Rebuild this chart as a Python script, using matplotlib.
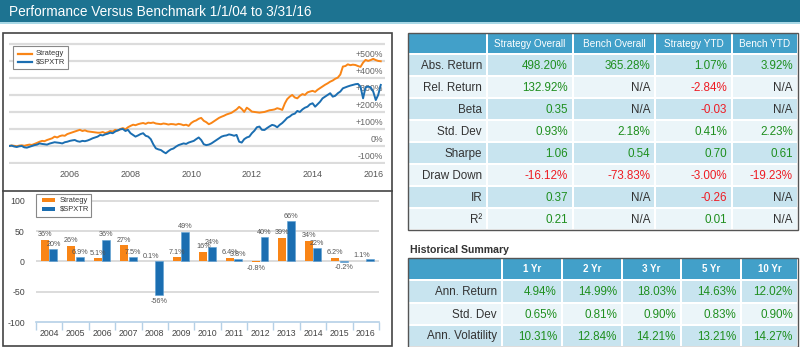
import numpy as np
import pandas as pd
import matplotlib
matplotlib.use('Agg')
import matplotlib.pyplot as plt
from matplotlib.patches import Rectangle

plt.rcParams['font.family'] = ['Liberation Sans', 'DejaVu Sans']

W, H = 800, 347

# ---------------- data ----------------
title = "Performance Versus Benchmark 1/1/04 to 3/31/16"

months = pd.date_range('2004-01-01', periods=148, freq='MS')
strategy_cum = [
    0, 3, 1, -2, 2, 4, 1, 5, 8, 6, 12, 18,
    25, 30, 28, 35, 40, 45, 55, 50, 58, 62, 60, 70,
    75, 80, 85, 90, 95, 88, 92, 86, 84, 82, 80, 78,
    78, 82, 76, 80, 88, 85, 95, 90, 100, 105, 98, 110,
    118, 125, 122, 128, 132, 135, 130, 137, 135, 138, 132, 130,
    128, 132, 130, 126, 129, 128, 125, 130, 127, 122, 125, 118,
    135, 145, 150, 160, 165, 148, 140, 128, 135, 145, 155, 165,
    172, 178, 185, 190, 195, 205, 215, 230, 218, 200, 225, 215,
    202, 200, 198, 196, 198, 200, 205, 210, 212, 215, 222, 218,
    212, 250, 275, 290, 300, 285, 280, 295, 305, 300, 315, 320,
    324, 318, 330, 340, 350, 360, 368, 378, 385, 395, 402, 420,
    467, 470, 480, 475, 478, 476, 470, 465, 490, 506, 500, 505,
    512, 505, 500, 498,
]
spx_cum = [
    0, 2, -3, -6, -2, 0, -8, -10, -5, 0, 5, 8,
    15, 12, 10, 8, 14, 18, 22, 20, 18, 15, 22, 25,
    30, 33, 35, 28, 25, 30, 28, 32, 38, 45, 50, 55,
    65, 62, 68, 72, 78, 75, 85, 92, 98, 100, 88, 95,
    75, 65, 55, 62, 70, 75, 60, 55, 40, 10, -14, -20,
    -24, -35, -43, -30, -20, -15, -4, 5, 10, 15, 12, 20,
    25, 30, 40, 50, 35, 10, 5, 8, 15, 25, 35, 45,
    55, 60, 62, 68, 65, 60, 65, 25, 20, 40, 50, 55,
    75, 90, 110, 114, 95, 94, 105, 115, 124, 120, 110, 124,
    135, 150, 165, 173, 185, 190, 206, 200, 215, 225, 231, 245,
    251, 231, 245, 260, 280, 290, 300, 310, 290, 295, 310, 320,
    339, 345, 350, 355, 359, 363, 365, 349, 280, 345, 349, 345,
    320, 270, 300, 359,
]
line_grid = [-100, 0, 100, 200, 300, 400, 500, 600]
line_ytick_vals = [-100, 0, 100, 200, 300, 400, 500]
line_ytick_labels = ["-100%", "0%", "+100%", "+200%", "+300%", "+400%", "+500%"]
line_xtick_years = [2006, 2008, 2010, 2012, 2014, 2016]

years = [2004, 2005, 2006, 2007, 2008, 2009, 2010, 2011, 2012, 2013, 2014, 2015, 2016]
strategy_annual = [36, 26, 5.1, 27, 0.1, 7.1, 16, 6.4, -0.8, 39, 34, 6.2, 1.1]
spx_annual = [20, 6.9, 36, 7.5, -56, 49, 24, 3.8, 40, 66, 22, -0.2, 3.9]
strategy_annual_labels = ["36%", "26%", "5.1%", "27%", "0.1%", "7.1%", "16%",
                          "6.4%", "-0.8%", "39%", "34%", "6.2%", "1.1%"]
spx_annual_labels = ["20%", "6.9%", "36%", "7.5%", "-56%", "49%", "24%",
                     "3.8%", "40%", "66%", "22%", "-0.2%", ""]
bar_yticks = [-100, -50, 0, 50, 100]

series_names = ["Strategy", "$SPXTR"]

metrics = ["Abs. Return", "Rel. Return", "Beta", "Std. Dev", "Sharpe",
           "Draw Down", "IR", "R²"]
metric_headers = ["Strategy Overall", "Bench Overall", "Strategy YTD", "Bench YTD"]
strategy_overall = ["498.20%", "132.92%", "0.35", "0.93%", "1.06", "-16.12%", "0.37", "0.21"]
bench_overall = ["365.28%", "N/A", "N/A", "2.18%", "0.54", "-73.83%", "N/A", "N/A"]
strategy_ytd = ["1.07%", "-2.84%", "-0.03", "0.41%", "0.70", "-3.00%", "-0.26", "0.01"]
bench_ytd = ["3.92%", "N/A", "N/A", "2.23%", "0.61", "-19.23%", "N/A", "N/A"]

hist_title = "Historical Summary"
hist_metrics = ["Ann. Return", "Std. Dev", "Ann. Volatility"]
hist_headers = ["1 Yr", "2 Yr", "3 Yr", "5 Yr", "10 Yr"]
hist_1yr = ["4.94%", "0.65%", "10.31%"]
hist_2yr = ["14.99%", "0.81%", "12.84%"]
hist_3yr = ["18.03%", "0.90%", "14.21%"]
hist_5yr = ["14.63%", "0.83%", "13.21%"]
hist_10yr = ["12.02%", "0.90%", "14.27%"]

# ---------------- style ----------------
ORANGE = '#f98516'
BLUE = '#1b6eb1'
GRID = '#dcdcdc'
HEAD = '#42a0c9'
ROW_A = '#c8e4ef'
ROW_B = '#ebf5f9'
GREEN = '#1f8f1f'
RED = '#ee1c24'
DARK = '#333333'

fig = plt.figure(figsize=(W / 100, H / 100), dpi=100)


def rect(x0, y0, x1, y1):
    return [x0 / W, 1 - y1 / H, (x1 - x0) / W, (y1 - y0) / H]


cax = fig.add_axes([0, 0, 1, 1], zorder=0)
cax.set_xlim(0, W)
cax.set_ylim(H, 0)
cax.axis('off')

# title band
cax.add_patch(Rectangle((0, 0), W, 22, color='#1d7391', lw=0))
cax.add_patch(Rectangle((0, 22), W, 1.5, color='#a8d8e6', lw=0))
cax.text(9, 11.5, title, color='white', fontsize=9.8, va='center', ha='left')

# left panel border
cax.add_patch(Rectangle((2.5, 32.5), 389, 313, fill=False, ec='#444444', lw=1.2))
cax.plot([2.5, 391.5], [190.5, 190.5], color='#444444', lw=1.2)

# ---------------- line chart ----------------
lax = fig.add_axes(rect(9, 40, 385, 164), zorder=2)
lax.patch.set_alpha(0)
for v in line_grid:
    lax.axhline(v, color=GRID, lw=1.6, zorder=1)
lax.plot(months, strategy_cum, color=ORANGE, lw=1.4, zorder=3)
lax.plot(months, spx_cum, color=BLUE, lw=1.4, zorder=3)
lax.set_ylim(-106, 623)
lax.set_xlim(pd.Timestamp('2003-12-30'), pd.Timestamp('2016-05-22'))
lax.set_xticks([pd.Timestamp(f'{y}-01-01') for y in line_xtick_years])
lax.set_xticklabels([str(y) for y in line_xtick_years], fontsize=6.5, color='#555555')
lax.tick_params(axis='x', length=0, pad=4.5)
lax.set_yticks([])
for s in lax.spines.values():
    s.set_visible(False)
for v, lab in zip(line_ytick_vals, line_ytick_labels):
    lax.annotate(lab, xy=(0.995, v), xycoords=('axes fraction', 'data'),
                 xytext=(0, 1.2), textcoords='offset points', ha='right', va='bottom',
                 fontsize=6.3, color='#666666', zorder=2)

# ---------------- bar chart ----------------
bax = fig.add_axes(rect(36, 193, 379, 322), zorder=2)
bax.patch.set_alpha(0)
x = np.arange(len(years))
for v in [-50, 0, 50, 100]:
    bax.axhline(v, color=GRID, lw=1.4, zorder=1)
orange_cols = [ORANGE] * (len(years) - 1) + ['#fcc591']
bax.bar(x - 0.16, strategy_annual, width=0.3, color=orange_cols, zorder=3)
bax.bar(x + 0.16, spx_annual, width=0.3, color=BLUE, ec='#5d9fd3', lw=0.4, zorder=3)
for xi, v, lab in zip(x - 0.16, strategy_annual, strategy_annual_labels):
    if lab:
        bax.annotate(lab, xy=(xi, v), xytext=(0, 1 if v >= 0 else -2),
                     textcoords='offset points', ha='center',
                     va='bottom' if v >= 0 else 'top', fontsize=5.2, color='#555555', zorder=4)
for xi, v, lab in zip(x + 0.16, spx_annual, spx_annual_labels):
    if lab:
        bax.annotate(lab, xy=(xi, v), xytext=(0, 1 if v >= 0 else -2),
                     textcoords='offset points', ha='center',
                     va='bottom' if v >= 0 else 'top', fontsize=5.2, color='#555555', zorder=4)
bax.set_ylim(-100, 113)
bax.set_xlim(-0.5, len(years) - 0.5)
bax.set_yticks(bar_yticks)
bax.set_yticklabels([str(v) for v in bar_yticks], fontsize=6.3, color='#444444')
bax.tick_params(axis='y', length=0, pad=8)
bax.set_xticks(x)
bax.set_xticklabels([str(y) for y in years], fontsize=6.3, color='#444444')
bax.set_xticks(np.arange(len(years) + 1) - 0.5, minor=True)
bax.tick_params(axis='x', which='major', length=0, pad=5)
bax.tick_params(axis='x', which='minor', length=6, color='#b5d0e6', width=1)
for k in ['top', 'right', 'left']:
    bax.spines[k].set_visible(False)
bax.spines['bottom'].set_color('#b5d0e6')
bax.spines['bottom'].set_linewidth(1.2)

# ---------------- legends (overlay) ----------------
oax = fig.add_axes([0, 0, 1, 1], zorder=10)
oax.set_xlim(0, W)
oax.set_ylim(H, 0)
oax.axis('off')
oax.patch.set_alpha(0)

oax.add_patch(Rectangle((13, 45.5), 55, 23.5, fc='white', ec='#888888', lw=0.8))
for yy, col, name in zip([53.5, 62], [ORANGE, BLUE], series_names):
    oax.plot([18, 32], [yy, yy], color=col, lw=1.6)
    oax.text(36, yy, name.replace('$', r'\$'), fontsize=5.4, va='center', ha='left', color=DARK)

oax.add_patch(Rectangle((36, 193.5), 55, 23, fc='white', ec='#888888', lw=0.8))
for yy, col, name in zip([200, 208.5], [ORANGE, BLUE], series_names):
    oax.add_patch(Rectangle((42, yy - 2), 13, 4, color=col, lw=0))
    oax.text(60, yy, name.replace('$', r'\$'), fontsize=5.4, va='center', ha='left', color=DARK)


# ---------------- tables ----------------
def val_color(s):
    if s == 'N/A':
        return DARK
    if s.startswith('-'):
        return RED
    return GREEN


def draw_table(col_edges, row_edges, headers, labels, columns, head_fs, head_bold, cell_fs):
    x0, x1 = col_edges[0], col_edges[-1]
    y0, y1 = row_edges[0], row_edges[-1]
    cax.add_patch(Rectangle((x0, y0), x1 - x0, y1 - y0, color='white', lw=0))
    nrows = len(row_edges) - 1
    for r in range(nrows):
        ya, yb = row_edges[r], row_edges[r + 1]
        if r == 0:
            col = HEAD
        else:
            col = ROW_A if (r % 2 == 1) else ROW_B
        for c in range(len(col_edges) - 1):
            xa, xb = col_edges[c], col_edges[c + 1]
            cax.add_patch(Rectangle((xa + 1, ya + 1), xb - xa - 2, yb - ya - 2, color=col, lw=0))
    cax.add_patch(Rectangle((x0, y0), x1 - x0, y1 - y0, fill=False, ec='#555555', lw=1.0))
    yc = (row_edges[0] + row_edges[1]) / 2
    for c, h in enumerate(headers):
        xa, xb = col_edges[c + 1], col_edges[c + 2]
        cax.text((xa + xb) / 2, yc + 0.5, h, ha='center', va='center', color='white',
                 fontsize=head_fs, fontweight='bold' if head_bold else 'normal')
    for r, lab in enumerate(labels):
        ya, yb = row_edges[r + 1], row_edges[r + 2]
        ym = (ya + yb) / 2 + 0.5
        cax.text(col_edges[1] - 5, ym, lab, ha='right', va='center', color=DARK, fontsize=cell_fs)
        for c, colvals in enumerate(columns):
            s = colvals[r]
            cax.text(col_edges[c + 2] - 5, ym, s, ha='right', va='center',
                     color=val_color(s), fontsize=cell_fs)


t1_cols = [408, 487, 573, 655, 732, 798]
t1_rows = [33, 54, 76, 98, 120, 142, 164, 186, 208, 230]
draw_table(t1_cols, t1_rows, metric_headers, metrics,
           [strategy_overall, bench_overall, strategy_ytd, bench_ytd], 7.2, False, 8.4)

cax.text(410, 250, hist_title, ha='left', va='center', fontsize=7.6, fontweight='bold', color=DARK)
t2_cols = [408, 502, 562, 622, 681, 741, 798]
t2_rows = [258, 280, 303, 325, 347]
draw_table(t2_cols, t2_rows, hist_headers, hist_metrics,
           [hist_1yr, hist_2yr, hist_3yr, hist_5yr, hist_10yr], 7.0, True, 8.4)

fig.savefig('out.png', dpi=100)
